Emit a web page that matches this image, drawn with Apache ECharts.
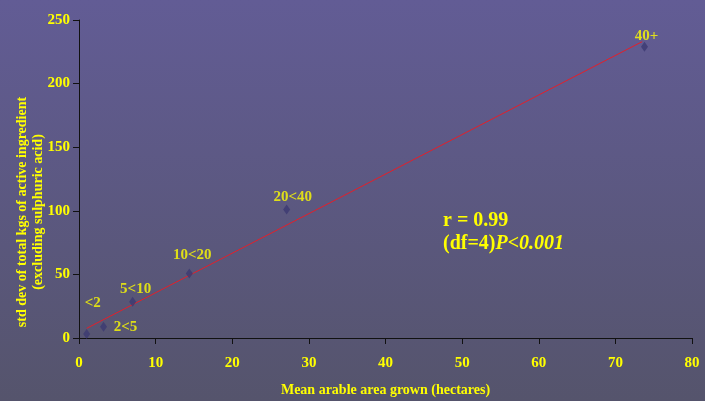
<!DOCTYPE html>
<html>
<head>
<meta charset="utf-8">
<script src="https://cdn.jsdelivr.net/npm/echarts@6/dist/echarts.min.js"></script>
<style>
html,body{margin:0;padding:0;}
#c{width:705px;height:401px;background:linear-gradient(#625c95,#55546c);}
</style>
</head>
<body>
<div id="c"></div>
<script>
var categories = ['<2', '2<5', '5<10', '10<20', '20<40', '40+'];
var meanArea = [1.0, 3.2, 7.0, 14.4, 27.1, 73.8];
var stdDev = [3.1, 8.9, 28.5, 50.8, 101, 229];
var trendX = [1.0, 73.5];
var trendY = [7.6, 233];
var xTicks = [0, 10, 20, 30, 40, 50, 60, 70, 80];
var yTicks = [0, 50, 100, 150, 200, 250];
var yTitle = 'std dev of total kgs of active ingredient\n(excluding sulphuric acid)';
var xTitle = 'Mean arable area grown (hectares)';

var labelOffsets = [[6, -31], [22, 0], [3, -13], [3, -18], [6, -12], [2, -11]];
var yellow = '#ffff00';
var serif = '"Liberation Serif", "Times New Roman", serif';

var pts = categories.map(function (c, i) {
  return {
    name: c,
    value: [meanArea[i], stdDev[i]],
    label: { offset: labelOffsets[i] }
  };
});
var trend = trendX.map(function (x, i) { return [x, trendY[i]]; });

var chart = echarts.init(document.getElementById('c'));
chart.setOption({
  backgroundColor: 'transparent',
  animation: false,
  grid: { left: 79, right: 13, top: 20, bottom: 63, containLabel: false, outerBoundsMode: 'none' },
  xAxis: {
    type: 'value', min: xTicks[0], max: xTicks[xTicks.length - 1], interval: 10,
    name: xTitle, nameLocation: 'middle', nameGap: 45,
    nameTextStyle: { color: yellow, fontFamily: serif, fontWeight: 'bold', fontSize: 14 },
    axisLine: { lineStyle: { color: '#111', width: 1 } },
    axisTick: { show: true, length: 6, lineStyle: { color: '#111' } },
    axisLabel: { color: yellow, fontFamily: serif, fontWeight: 'bold', fontSize: 15, margin: 18 },
    splitLine: { show: false }
  },
  yAxis: {
    type: 'value', min: yTicks[0], max: yTicks[yTicks.length - 1], interval: 50,
    axisLine: { show: true, lineStyle: { color: '#111', width: 1 } },
    axisTick: { show: true, length: 6, lineStyle: { color: '#111' } },
    axisLabel: { color: yellow, fontFamily: serif, fontWeight: 'bold', fontSize: 15, margin: 9 },
    splitLine: { show: false }
  },
  series: [
    {
      type: 'line', data: trend, showSymbol: false, symbol: 'none',
      lineStyle: { color: '#e41f2a', width: 1 }, z: 2, silent: true
    },
    {
      type: 'scatter', data: pts, symbol: 'diamond', symbolSize: [7, 10],
      itemStyle: { color: '#3c3a72' }, z: 3,
      label: {
        show: true, position: 'inside', formatter: '{b}',
        color: yellow, fontFamily: serif, fontWeight: 'bold', fontSize: 15
      }
    }
  ],
  graphic: [
    {
      type: 'text', x: 30, y: 212, rotation: Math.PI / 2,
      style: {
        text: yTitle, fill: yellow, font: 'bold 14px ' + serif,
        align: 'center', verticalAlign: 'middle', lineHeight: 16
      }
    },
    {
      type: 'text', left: 443, top: 211,
      style: { text: 'r = 0.99', fill: yellow, font: 'bold 20px ' + serif }
    },
    {
      type: 'text', left: 443, top: 234,
      style: {
        text: '{a|(df=4)}{b|P<0.001}',
        rich: {
          a: { fill: yellow, fontFamily: serif, fontWeight: 'bold', fontSize: 20 },
          b: { fill: yellow, fontFamily: serif, fontWeight: 'bold', fontStyle: 'italic', fontSize: 20 }
        }
      }
    }
  ]
});
</script>
</body>
</html>
